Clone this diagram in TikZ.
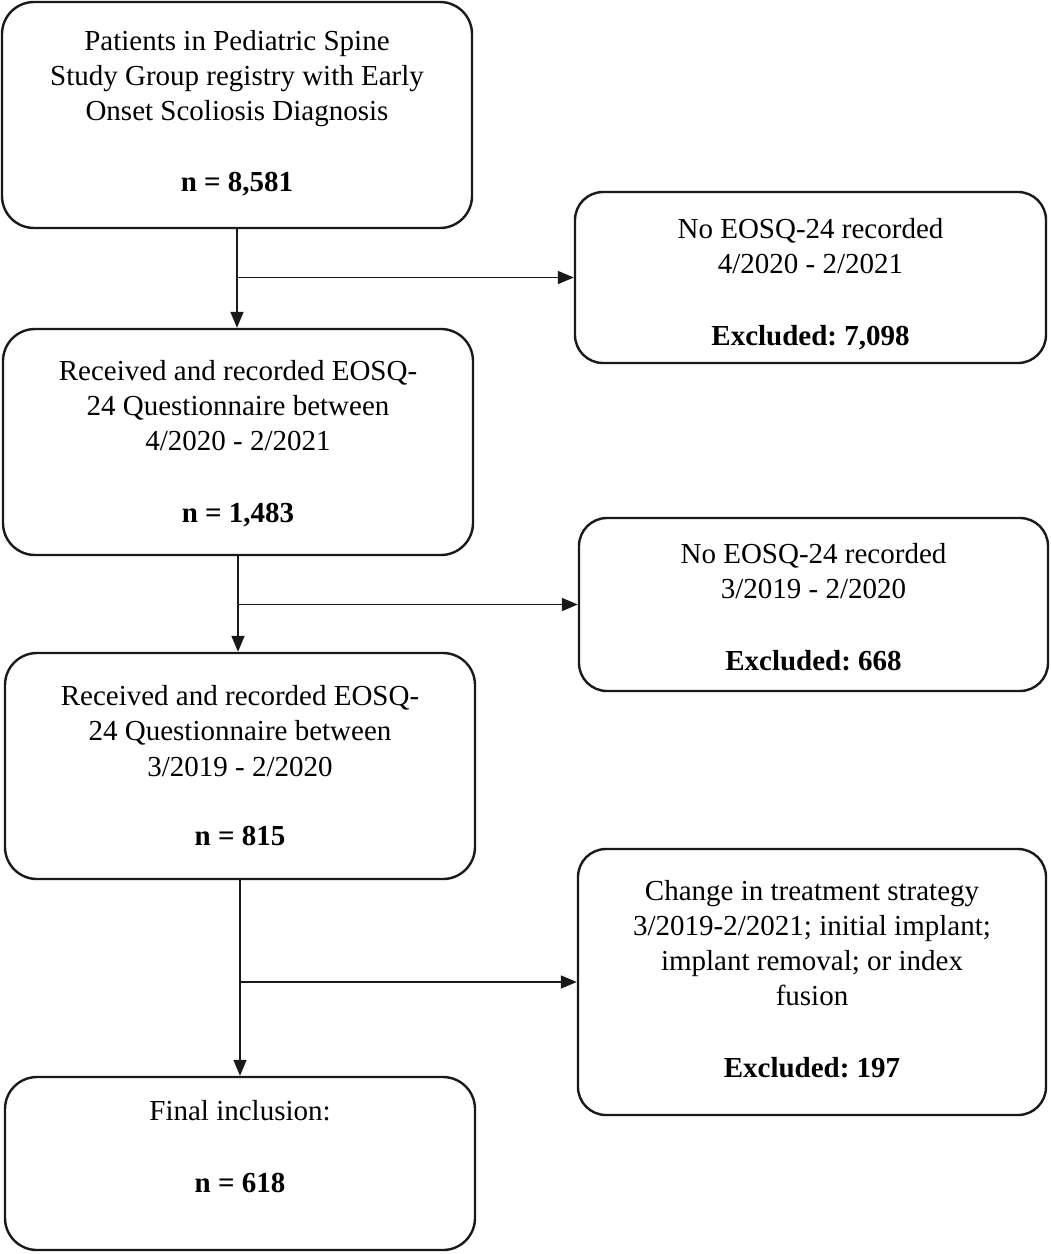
\documentclass[tikz,border=0pt]{standalone}
\usepackage{fontspec}
\setmainfont{Liberation Serif}
\frenchspacing
\usetikzlibrary{arrows.meta}
\begin{document}
\begin{tikzpicture}[x=1pt,y=-1pt,
  box/.style={draw=black!90, line width=2.4pt, rounded corners=32pt, inner sep=0pt},
  rbox/.style={draw=black!90, line width=2.4pt, rounded corners=28pt, inner sep=0pt},
  txt/.style={anchor=base, inner sep=0pt, font=\fontsize{29}{35}\selectfont},
  btxt/.style={anchor=base, inner sep=0pt, font=\fontsize{29}{35}\selectfont\bfseries},
  conn/.style={draw=black!90, line width=1.6pt},
  arr/.style={conn, -{Triangle[length=16pt,width=13pt]}}
]
\useasboundingbox (0,0) rectangle (1051,1254);
% left boxes
\node[box, minimum width=470pt, minimum height=226pt] (b1) at (237,115) {};
\node[box, minimum width=470pt, minimum height=226pt] (b2) at (238,442) {};
\node[box, minimum width=470pt, minimum height=226pt] (b3) at (240,766) {};
\node[box, minimum width=470pt, minimum height=173pt] (b4) at (240,1163.5) {};
% right boxes
\node[rbox, minimum width=471pt, minimum height=171pt] (r1) at (810.5,277.5) {};
\node[rbox, minimum width=469pt, minimum height=173pt] (r2) at (813.5,604.5) {};
\node[rbox, minimum width=468pt, minimum height=266pt] (r3) at (812,982) {};

% texts box 1
\node[txt] (t1a) at (237,50) {Patients in Pediatric Spine};
\node[txt] (t1b) at (237,85) {Study Group registry with Early};
\node[txt] (t1c) at (237,120) {Onset Scoliosis Diagnosis};
\node[btxt] (t1d) at (237,191) {n = 8,581};
% box 2
\node[txt] (t2a) at (238,380) {Received and recorded EOSQ-};
\node[txt] (t2b) at (238,415) {24 Questionnaire between};
\node[txt] (t2c) at (238,450) {4/2020 - 2/2021};
\node[btxt] (t2d) at (238,522) {n = 1,483};
% box 3
\node[txt] (t3a) at (240,705) {Received and recorded EOSQ-};
\node[txt] (t3b) at (240,740) {24 Questionnaire between};
\node[txt] (t3c) at (240,776) {3/2019 - 2/2020};
\node[btxt] (t3d) at (240,845) {n = 815};
% box 4
\node[txt] (t4a) at (240,1120) {Final inclusion:};
\node[btxt] (t4b) at (240,1192) {n = 618};
% right 1
\node[txt] (u1a) at (810.5,238) {No EOSQ-24 recorded};
\node[txt] (u1b) at (810.5,273) {4/2020 - 2/2021};
\node[btxt] (u1c) at (810.5,345) {Excluded: 7,098};
% right 2
\node[txt] (u2a) at (813.5,563) {No EOSQ-24 recorded};
\node[txt] (u2b) at (813.5,598) {3/2019 - 2/2020};
\node[btxt] (u2c) at (813.5,670) {Excluded: 668};
% right 3
\node[txt] (u3a) at (812,900) {Change in treatment strategy};
\node[txt] (u3b) at (812,935) {3/2019-2/2021; initial implant;};
\node[txt] (u3c) at (812,970) {implant removal; or index};
\node[txt] (u3d) at (812,1005) {fusion};
\node[btxt] (u3e) at (812,1077) {Excluded: 197};

% connectors
\coordinate (e1) at (b1.south |- b2.north);
\coordinate (e2) at (b2.south |- b3.north);
\coordinate (e3) at (b3.south |- b4.north);
\coordinate (j1) at (b1.south |- r1.west);
\coordinate (j2) at (b2.south |- r2.west);
\coordinate (j3) at (b3.south |- r3.west);
\draw[arr] (b1.south) -- (e1);
\draw[arr] (j1) -- (r1.west);
\draw[arr] (b2.south) -- (e2);
\draw[arr] (j2) -- (r2.west);
\draw[arr] (b3.south) -- (e3);
\draw[arr] (j3) -- (r3.west);
\end{tikzpicture}
\end{document}
